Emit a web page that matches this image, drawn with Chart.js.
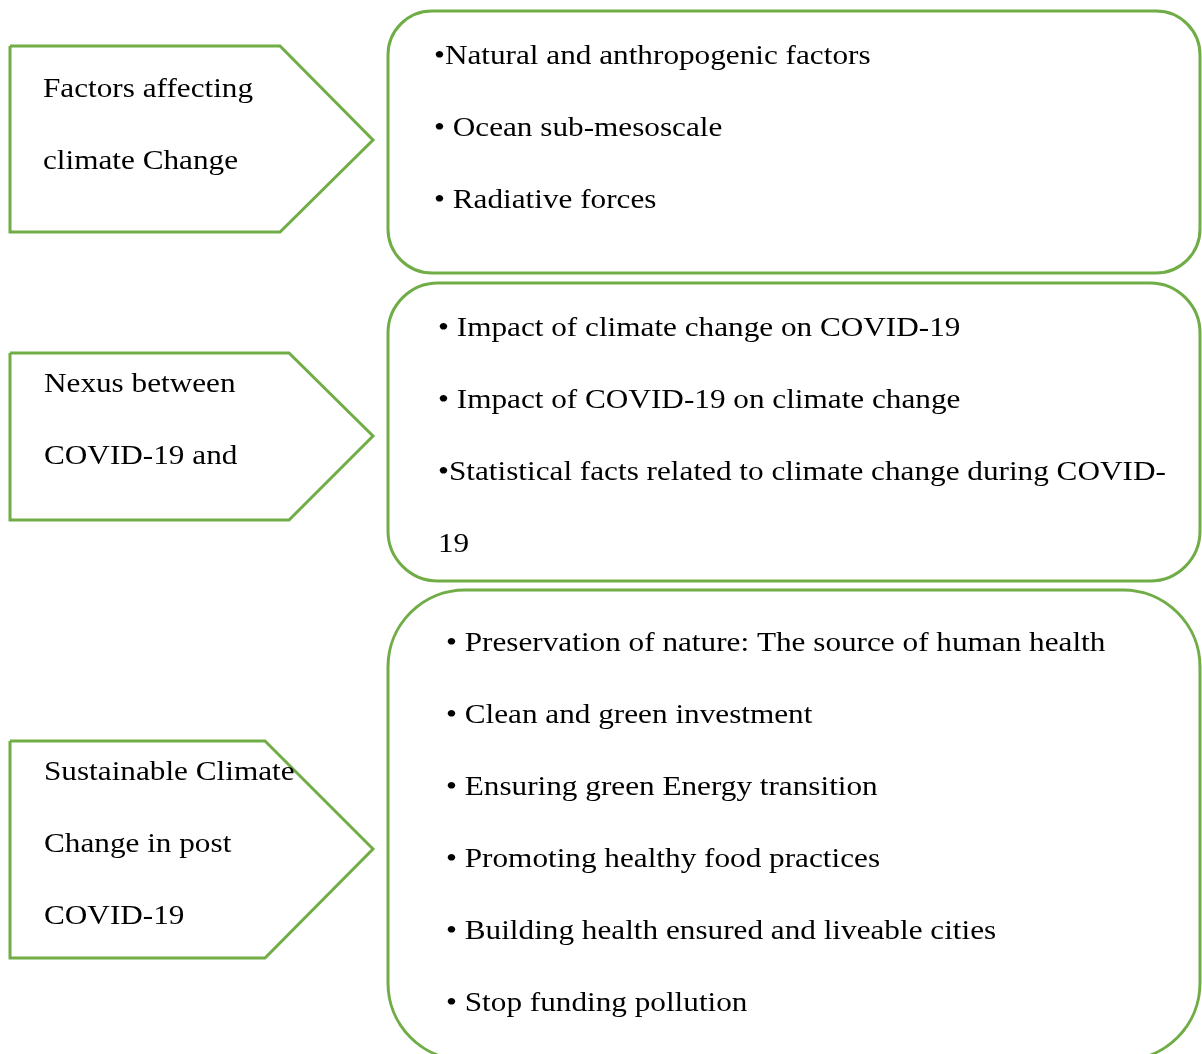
<!DOCTYPE html>
<html>
<head>
<meta charset="utf-8">
<script src="https://cdn.jsdelivr.net/npm/chart.js@4.4.1/dist/chart.umd.min.js"></script>
<style>
  html, body { margin: 0; padding: 0; background: #ffffff; }
  #wrap { width: 1202px; height: 1054px; }
</style>
</head>
<body>
<div id="wrap"><canvas id="c" width="1202" height="1054"></canvas></div>
<script>
// ---- Content (text) ----
const stageLabels = [
  ["Factors affecting", "climate Change"],
  ["Nexus between", "COVID-19 and"],
  ["Sustainable Climate", "Change in post", "COVID-19"]
];
const stageItems = [
  ["\u2022Natural and anthropogenic factors", "\u2022 Ocean sub-mesoscale", "\u2022 Radiative forces"],
  ["\u2022 Impact of climate change on COVID-19", "\u2022 Impact of COVID-19 on climate change",
   "\u2022Statistical facts related to climate change during COVID-", "19"],
  ["\u2022 Preservation of nature: The source of human health", "\u2022 Clean and green investment",
   "\u2022 Ensuring green Energy transition", "\u2022 Promoting healthy food practices",
   "\u2022 Building health ensured and liveable cities", "\u2022 Stop funding pollution"]
];

// ---- Layout (diagram geometry in axis units) ----
const arrowLeft = [10, 10, 10];
const arrowTop = [46, 353, 741];
const arrowBottom = [232, 520, 958];
const arrowNotch = [280, 289, 265];
const arrowTip = [373, 373, 373];
const arrowTipY = [140, 436, 849];
const labelX = [43, 44, 44];
const labelBaseline = [97, 392, 780];

const boxLeft = [388, 388, 388];
const boxRight = [1200, 1200, 1200];
const boxTop = [11, 283, 590];
const boxBottom = [273, 581, 1060];
const boxRadius = [44, 50, 77];
const itemX = [434, 438, 446];
const itemBaseline = [64, 336, 651];
const lineStep = 72;

const GREEN = "#70AD47";
const FONT = "28px 'Liberation Serif', 'Times New Roman', serif";
const STRETCH = 1.115;

const arrowDatasets = arrowLeft.map((l, i) => ({
  label: "stage" + (i + 1),
  data: [
    { x: l, y: arrowTop[i] },
    { x: arrowNotch[i], y: arrowTop[i] },
    { x: arrowTip[i], y: arrowTipY[i] },
    { x: arrowNotch[i], y: arrowBottom[i] },
    { x: l, y: arrowBottom[i] },
    { x: l, y: arrowTop[i] }
  ],
  showLine: true,
  borderColor: GREEN,
  borderWidth: 3,
  pointRadius: 0,
  tension: 0,
  fill: false,
  borderJoinStyle: "miter"
}));

const diagramPlugin = {
  id: "diagram",
  afterDatasetsDraw(chart) {
    const ctx = chart.ctx;
    const xs = chart.scales.x, ys = chart.scales.y;
    const px = v => xs.getPixelForValue(v);
    const py = v => ys.getPixelForValue(v);
    ctx.save();
    // rounded boxes
    ctx.strokeStyle = GREEN;
    ctx.lineWidth = 3;
    for (let i = 0; i < boxLeft.length; i++) {
      const x0 = px(boxLeft[i]), x1 = px(boxRight[i]);
      const y0 = py(boxTop[i]), y1 = py(boxBottom[i]);
      const r = Math.abs(px(boxLeft[i] + boxRadius[i]) - x0);
      ctx.beginPath();
      ctx.roundRect(x0, y0, x1 - x0, y1 - y0, r);
      ctx.stroke();
    }
    // text
    ctx.fillStyle = "#000000";
    ctx.font = FONT;
    ctx.textBaseline = "alphabetic";
    ctx.textAlign = "left";
    const drawText = (t, x, y) => {
      ctx.save();
      ctx.translate(px(x), py(y));
      ctx.scale(STRETCH, 1);
      ctx.fillText(t, 0, 0);
      ctx.restore();
    };
    stageLabels.forEach((lines, i) => {
      lines.forEach((t, j) => drawText(t, labelX[i], labelBaseline[i] + j * lineStep));
    });
    stageItems.forEach((lines, i) => {
      lines.forEach((t, j) => drawText(t, itemX[i], itemBaseline[i] + j * lineStep));
    });
    ctx.restore();
  }
};

new Chart(document.getElementById("c"), {
  type: "scatter",
  data: { datasets: arrowDatasets },
  options: {
    responsive: false,
    animation: false,
    layout: { padding: 0 },
    plugins: { legend: { display: false }, tooltip: { enabled: false }, title: { display: false } },
    scales: {
      x: { type: "linear", min: 0, max: 1202, display: false },
      y: { type: "linear", min: 0, max: 1054, reverse: true, display: false }
    }
  },
  plugins: [diagramPlugin]
});
</script>
</body>
</html>
